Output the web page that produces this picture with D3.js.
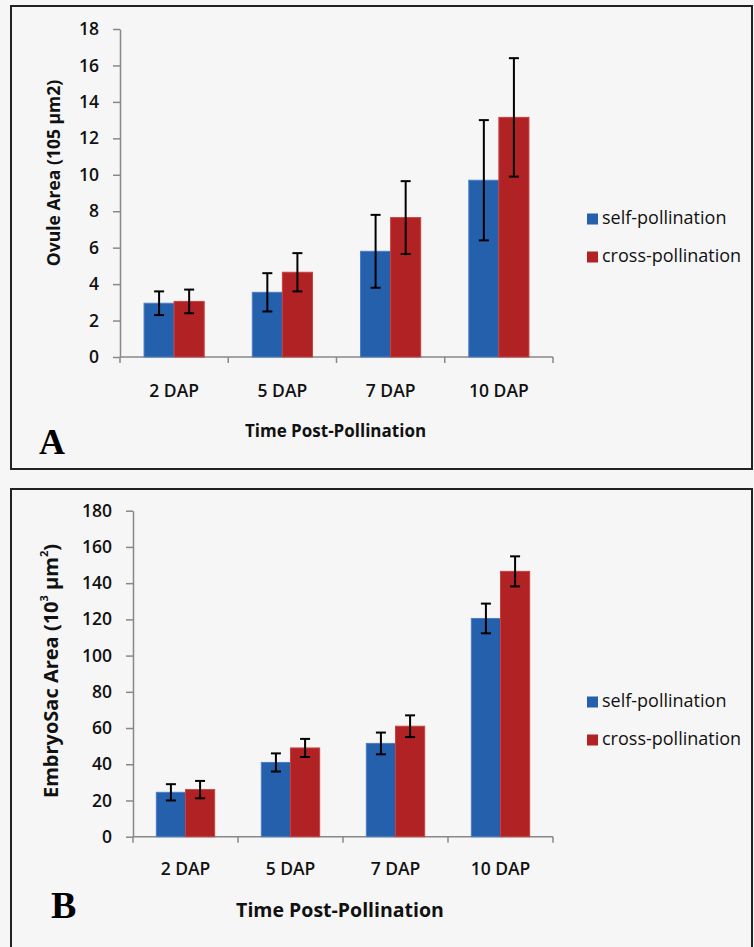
<!DOCTYPE html>
<html><head><meta charset="utf-8">
<script src="https://cdn.jsdelivr.net/npm/d3@7"></script>
<style>
html,body{margin:0;padding:0;background:#f6f6f6;}
svg{display:block;font-family:"Open Sans",sans-serif;}
</style></head>
<body>
<svg id="chart" width="754" height="947"></svg>
<script>
const categories = ["2 DAP", "5 DAP", "7 DAP", "10 DAP"];
const seriesNames = ["self-pollination", "cross-pollination"];
const seriesColors = ["#2460ac", "#b02224"];
const seriesStroke = ["#4a7dc4", "#c8403f"];

// Panel A: Ovule area
const ovuleSelf = [2.95, 3.55, 5.8, 9.7];
const ovuleSelfErr = [0.65, 1.05, 2.0, 3.3];
const ovuleCross = [3.05, 4.65, 7.65, 13.15];
const ovuleCrossErr = [0.65, 1.05, 2.0, 3.25];
const ovuleTicks = [0, 2, 4, 6, 8, 10, 12, 14, 16, 18];

// Panel B: Embryo sac area
const sacSelf = [24.5, 41, 51.5, 120.5];
const sacSelfErr = [4.5, 5, 6, 8.2];
const sacCross = [26, 49, 61, 146.5];
const sacCrossErr = [4.8, 5, 6, 8.3];
const sacTicks = [0, 20, 40, 60, 80, 100, 120, 140, 160, 180];

const svg = d3.select("#chart");
svg.append("rect").attr("width", 754).attr("height", 947).attr("fill", "#f6f6f6");

function panel(cfg) {
  const g = svg.append("g");
  g.append("rect").attr("x", 11).attr("y", cfg.boxTop).attr("width", 741).attr("height", cfg.boxH)
    .attr("fill", "#f6f6f6").attr("stroke", "#222").attr("stroke-width", 2);

  const x0 = d3.scaleBand().domain(categories).range([cfg.left, cfg.right]).padding(0);
  const x1 = d3.scaleBand().domain(seriesNames).range([0, x0.bandwidth()]).paddingInner(0).paddingOuter(0.8);
  const y = d3.scaleLinear().domain([0, cfg.ticks[cfg.ticks.length - 1]]).range([cfg.bottom, cfg.top]);

  // y axis
  const yAxis = d3.axisLeft(y).tickValues(cfg.ticks).tickSize(7).tickPadding(14).tickSizeOuter(0);
  const ya = g.append("g").attr("transform", `translate(${cfg.left},0)`).call(yAxis);
  ya.select(".domain").attr("stroke", "#888").attr("stroke-width", 1.5);
  ya.selectAll(".tick line").attr("stroke", "#888").attr("stroke-width", 1.5);
  ya.selectAll(".tick text").attr("fill", "#111").style("font-size", "17.5px")
    .style("font-weight", "600").style("font-family", "Open Sans");

  // x axis line + boundary ticks
  g.append("line").attr("x1", cfg.left).attr("x2", cfg.right).attr("y1", y(0)).attr("y2", y(0))
    .attr("stroke", "#888").attr("stroke-width", 1.5);
  const bounds = categories.map(c => x0(c)).concat([x0(categories[categories.length - 1]) + x0.bandwidth()]);
  g.selectAll(".xt").data(bounds).enter().append("line")
    .attr("x1", d => d).attr("x2", d => d).attr("y1", y(0)).attr("y2", y(0) + 6)
    .attr("stroke", "#888").attr("stroke-width", 1.5);
  g.selectAll(".xl").data(categories).enter().append("text")
    .attr("x", d => x0(d) + x0.bandwidth() / 2).attr("y", y(0) + cfg.xLabelDy)
    .attr("text-anchor", "middle").attr("dominant-baseline", "middle")
    .attr("fill", "#111").style("font-size", "17.5px").style("font-weight", "600").text(d => d);

  // bars
  const data = [];
  categories.forEach((c, i) => {
    data.push({ c, s: seriesNames[0], v: cfg.self[i], e: cfg.selfErr[i], k: 0 });
    data.push({ c, s: seriesNames[1], v: cfg.cross[i], e: cfg.crossErr[i], k: 1 });
  });
  g.selectAll(".bar").data(data).enter().append("rect")
    .attr("x", d => x0(d.c) + x1(d.s)).attr("width", x1.bandwidth())
    .attr("y", d => y(d.v)).attr("height", d => y(0) - y(d.v))
    .attr("fill", d => seriesColors[d.k]).attr("stroke", d => seriesStroke[d.k]).attr("stroke-width", 1);

  // error bars
  const eb = g.selectAll(".eb").data(data).enter().append("g")
    .attr("stroke", "#000").attr("stroke-width", 2);
  const cx = d => x0(d.c) + x1(d.s) + x1.bandwidth() / 2;
  eb.append("line").attr("x1", cx).attr("x2", cx).attr("y1", d => y(d.v + d.e)).attr("y2", d => y(d.v - d.e));
  eb.append("line").attr("x1", d => cx(d) - 5).attr("x2", d => cx(d) + 5).attr("y1", d => y(d.v + d.e)).attr("y2", d => y(d.v + d.e));
  eb.append("line").attr("x1", d => cx(d) - 5).attr("x2", d => cx(d) + 5).attr("y1", d => y(d.v - d.e)).attr("y2", d => y(d.v - d.e));

  // x title
  g.append("text").attr("x", (cfg.left + cfg.right) / 2 + cfg.xTitleDx).attr("y", cfg.xTitleY)
    .attr("text-anchor", "middle").attr("dominant-baseline", "middle")
    .style("font-weight", "bold").style("font-size", cfg.xTitleSize).attr("fill", "#111").text("Time Post-Pollination");

  // y title
  const yt = g.append("text").attr("transform", `translate(${cfg.yTitleX},${cfg.yTitleY}) rotate(-90)`)
    .attr("text-anchor", "middle").attr("dominant-baseline", "middle")
    .style("font-weight", "bold").style("font-size", cfg.yTitleSize).attr("fill", "#111");
  cfg.yTitle(yt);

  // legend
  seriesNames.forEach((s, i) => {
    const ly = cfg.legendY + i * cfg.legendGap;
    g.append("rect").attr("x", 587).attr("y", ly - 5.5).attr("width", 11).attr("height", 11).attr("fill", seriesColors[i]);
    g.append("text").attr("x", 602).attr("y", ly).attr("dominant-baseline", "middle")
      .style("font-size", "18px").attr("fill", "#111").text(s);
  });

  // panel letter
  g.append("text").attr("x", cfg.letterX).attr("y", cfg.letterY)
    .style("font-family", "Liberation Serif").style("font-weight", "bold").style("font-size", cfg.letterSize)
    .attr("fill", "#000").text(cfg.letter);
}

panel({
  boxTop: 6, boxH: 463, left: 120, right: 553, top: 29, bottom: 357,
  ticks: ovuleTicks, self: ovuleSelf, selfErr: ovuleSelfErr, cross: ovuleCross, crossErr: ovuleCrossErr,
  xLabelDy: 35, xTitleY: 432, xTitleDx: -1, xTitleSize: "17px",
  yTitleX: 55, yTitleY: 173, yTitleSize: "17.5px",
  yTitle: t => t.text("Ovule Area  (105 µm2)"),
  legendY: 219, legendGap: 38,
  letter: "A", letterX: 39, letterY: 454, letterSize: "36px"
});

panel({
  boxTop: 489, boxH: 470, left: 133, right: 553, top: 510.7, bottom: 836.7,
  ticks: sacTicks, self: sacSelf, selfErr: sacSelfErr, cross: sacCross, crossErr: sacCrossErr,
  xLabelDy: 34, xTitleY: 912, xTitleDx: -3, xTitleSize: "19.5px",
  yTitleX: 53, yTitleY: 671, yTitleSize: "20px",
  yTitle: t => {
    t.append("tspan").text("EmbryoSac Area (10");
    t.append("tspan").attr("baseline-shift", "super").style("font-size", "11px").text("3");
    t.append("tspan").text(" µm");
    t.append("tspan").attr("baseline-shift", "super").style("font-size", "11px").text("2");
    t.append("tspan").text(")");
  },
  legendY: 702, legendGap: 38,
  letter: "B", letterX: 51, letterY: 918, letterSize: "38px"
});
</script>
</body></html>
